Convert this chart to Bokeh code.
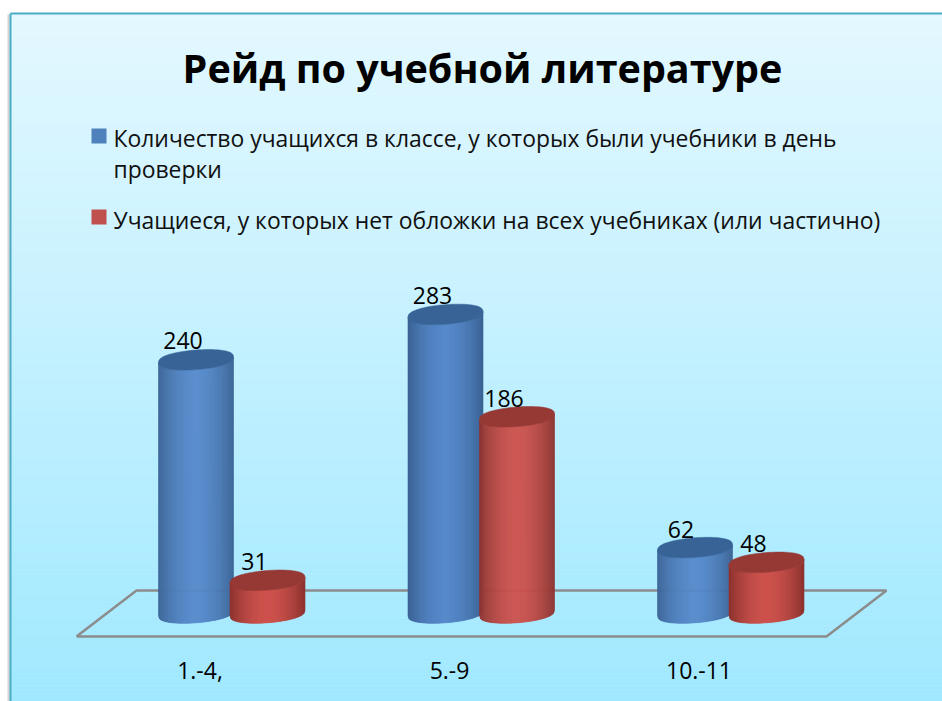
import math
from bokeh.plotting import figure
from bokeh.models import Range1d
from bokeh.core.properties import value
from bokeh.embed import file_html
from bokeh.resources import INLINE

title_text = "Рейд по учебной литературе"
categories = ["1.-4,", "5.-9", "10.-11"]
series_1_name = ["Количество учащихся в классе, у которых были учебники в день", "проверки"]
series_2_name = ["Учащиеся, у которых нет обложки на всех учебниках (или частично)"]
series_1 = [240, 283, 62]
series_2 = [31, 186, 48]

W, H = 942, 701
PX_PER_UNIT = 1.055
BASE_PX = 612.5
def Y(px):
    return (BASE_PX - px) / PX_PER_UNIT

p = figure(width=W, height=H, output_backend="svg", toolbar_location=None,
           x_range=Range1d(0, W), y_range=Range1d(Y(H), Y(0)),
           min_border=0, outline_line_color=None, border_fill_color="white",
           background_fill_color="white")
p.axis.visible = False
p.grid.visible = False

# panel gradient
tops, bots, cols = [], [], []
top_c, bot_c = (227, 248, 255), (159, 232, 255)
for py in range(13, 701, 4):
    t = (py - 13) / 688
    c = tuple(round(a + (b - a) * t) for a, b in zip(top_c, bot_c))
    tops.append(Y(py)); bots.append(Y(py + 4))
    cols.append("#%02x%02x%02x" % c)
p.quad(left=10, right=942, top=tops, bottom=bots, fill_color=cols, line_color=cols, line_width=0.5)
# shadow and border
p.segment(x0=[8], y0=[Y(14)], x1=[8], y1=[Y(701)], line_color="#d4d4d4", line_width=2)
p.line(x=[10, 10], y=[Y(701), Y(13)], line_color="#4bacc6", line_width=2)
p.line(x=[10, 942], y=[Y(13), Y(13)], line_color="#4bacc6", line_width=2)

# floor
p.line(x=[76, 136, 886, 826, 76], y=[Y(636), Y(590), Y(590), Y(636), Y(636)],
       line_color="#8c8c8c", line_width=2.5)

A, B, SHEAR, ROUND = 37.5, 9.8, 0.075, 0.8
def lerp(c0, c1, t):
    return "#%02x%02x%02x" % tuple(round(a + (b - a) * t) for a, b in zip(c0, c1))

def low(d):
    return -(B * max(0, 1 - (d / A) ** 2) ** (ROUND / 2) - SHEAR * d) / PX_PER_UNIT

def cylinder(cx, v, edge, mid, cap):
    xs, ys, fills = [], [], []
    n = 75
    for i in range(n):
        d0 = -A + 2 * A * i / n
        d1 = -A + 2 * A * (i + 1) / n
        xs.append([cx + d0, cx + d1, cx + d1, cx + d0])
        ys.append([v + low(d0), v + low(d1), low(d1), low(d0)])
        m = (d0 + d1) / 2
        fills.append(lerp(edge, mid, 1 - abs(m / A) ** 1.8))
    p.patches(xs, ys, fill_color=fills, line_color=fills, line_width=0.6)
    ex, ey = [], []
    for k in range(73):
        a = 2 * math.pi * k / 72
        d = A * math.cos(a)
        s = math.sin(a)
        ex.append(cx + d)
        ey.append(v + (B * math.copysign(abs(s) ** ROUND, s) + SHEAR * d) / PX_PER_UNIT)
    p.patch(ex, ey, fill_color=cap, line_color=cap, line_width=0.5)

BLUE = ((58, 98, 148), (86, 137, 202), (56, 99, 150))
RED = ((140, 50, 46), (205, 82, 77), (150, 56, 52))
FIRST, STEP, GAP = 195.5, 249.5, 71.5
for i in range(3):
    cylinder(FIRST + i * STEP, series_1[i], *BLUE)
    cylinder(FIRST + i * STEP + GAP, series_2[i], *RED)

FONT = value("Open Sans")
p.text(x=[482], y=[Y(67)], text=[title_text], text_font=FONT, text_font_style="bold",
       text_font_size="39.5px", text_align="center", text_baseline="middle", text_color="black")

# legend
p.quad(left=[91, 91], right=[106, 106], top=[Y(128), Y(209)], bottom=[Y(143), Y(224)],
       fill_color=["#4f81bd", "#c0504d"], line_color=None)
p.text(x=[113, 113, 113], y=[Y(138), Y(169), Y(220)],
       text=series_1_name + series_2_name, text_font=FONT, text_font_size="22.9px",
       text_align="left", text_baseline="middle", text_color="#101010")

# data labels
label_dx_1, label_dy_1 = [-13, -13, -14], [19, 19, 18]
label_dx_2, label_dy_2 = [-13, -13, -13], [18.5, 18, 19]
for i in range(3):
    p.text(x=[FIRST + i * STEP + label_dx_1[i]], y=[series_1[i] + label_dy_1[i] / PX_PER_UNIT], text=[str(series_1[i])],
           text_font=FONT, text_font_size="23px", text_align="center", text_baseline="middle", text_color="black")
    p.text(x=[FIRST + i * STEP + GAP + label_dx_2[i]], y=[series_2[i] + label_dy_2[i] / PX_PER_UNIT], text=[str(series_2[i])],
           text_font=FONT, text_font_size="23px", text_align="center", text_baseline="middle", text_color="black")

# category labels
p.text(x=[FIRST + 4 + i * STEP for i in range(3)], y=[Y(670)] * 3, text=categories,
       text_font=FONT, text_font_size="23px", text_align="center", text_baseline="middle", text_color="black")

open("out.html", "w").write(file_html(p, INLINE))
